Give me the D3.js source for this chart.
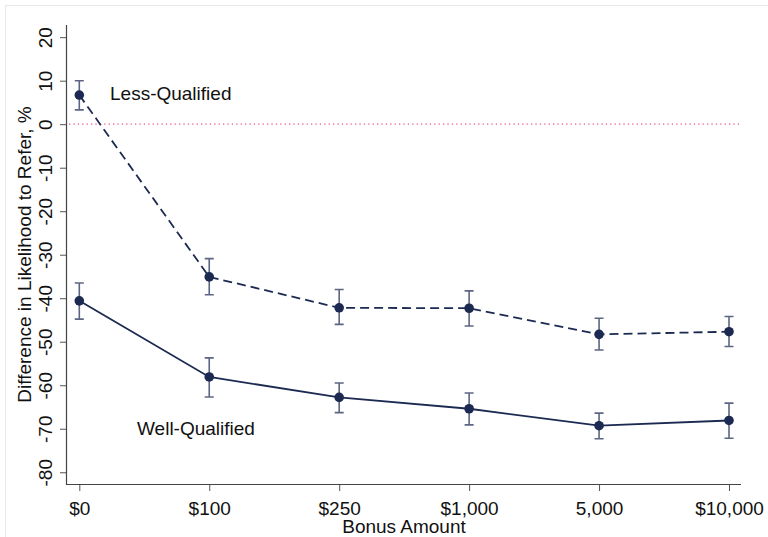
<!DOCTYPE html>
<html>
<head>
<meta charset="utf-8">
<script src="https://cdn.jsdelivr.net/npm/d3@7"></script>
<style>
    body { margin: 0; background: #fff; }
    text { font-family: "Liberation Sans", Arial, sans-serif; fill: #111; }
</style>
</head>
<body>
<div id="chart"></div>
<script>
// Data
const bonusLabels = ["$0", "$100", "$250", "$1,000", "5,000", "$10,000"];
const yTicks = [20, 10, 0, -10, -20, -30, -40, -50, -60, -70, -80];

const lessQualified = [6.7, -35.1, -42.2, -42.3, -48.3, -47.7];
const lessLow = [3.3, -39.2, -46.0, -46.4, -51.9, -51.1];
const lessHigh = [10.0, -30.9, -38.0, -38.3, -44.6, -44.2];

const wellQualified = [-40.6, -58.1, -62.8, -65.4, -69.3, -68.1];
const wellLow = [-44.8, -62.7, -66.3, -69.1, -72.3, -72.2];
const wellHigh = [-36.5, -53.7, -59.5, -61.8, -66.4, -64.1];

const W = 768, H = 537;
const plot = { left: 67, right: 741, top: 25, bottom: 484 };
const navy = "#1c2a52";
const barColor = "#5c6684";

const svg = d3.select("#chart").append("svg")
    .attr("width", W)
    .attr("height", H);

// light outer frame
svg.append("rect")
    .attr("x", 5.5).attr("y", 5.5)
    .attr("width", W + 20).attr("height", H + 20)
    .style("fill", "none")
    .style("stroke", "#e4e9e9");

// Scales
const x = d3.scalePoint()
    .domain(bonusLabels)
    .range([79.3, 729]);

const y = d3.scaleLinear()
    .domain([-82.7, 22.8])
    .range([plot.bottom, plot.top]);

// Axes
const xAxis = svg.append("g")
    .attr("transform", `translate(0,${plot.bottom})`)
    .call(d3.axisBottom(x).tickSize(7).tickSizeOuter(0));
xAxis.select(".domain").remove();
xAxis.selectAll("line").style("stroke", "#555");
xAxis.selectAll("text")
    .attr("y", 12)
    .attr("dy", "1em")
    .style("font-size", "19px")
    .style("font-family", "Liberation Sans, Arial, sans-serif")
    .style("fill", "#111");

const yAxis = svg.append("g")
    .attr("transform", `translate(${plot.left},0)`)
    .call(d3.axisLeft(y).tickValues(yTicks).tickFormat(d => String(d)).tickSize(7).tickSizeOuter(0));
yAxis.select(".domain").remove();
yAxis.selectAll("line").style("stroke", "#555");
yAxis.selectAll("text")
    .attr("x", null).attr("dy", null)
    .attr("text-anchor", "middle")
    .attr("transform", "translate(-15,0) rotate(-90)")
    .style("font-size", "19px")
    .style("font-family", "Liberation Sans, Arial, sans-serif")
    .style("fill", "#111");

// axis lines spanning full plot region
svg.append("line")
    .attr("x1", plot.left).attr("x2", plot.right)
    .attr("y1", plot.bottom + 0.5).attr("y2", plot.bottom + 0.5)
    .style("stroke", "#444").style("stroke-width", 1.2);
svg.append("line")
    .attr("x1", plot.left - 0.5).attr("x2", plot.left - 0.5)
    .attr("y1", plot.top).attr("y2", plot.bottom + 1)
    .style("stroke", "#444").style("stroke-width", 1.2);

// Axis titles
svg.append("text")
    .attr("text-anchor", "middle")
    .attr("x", (plot.left + plot.right) / 2)
    .attr("y", 533)
    .style("font-size", "19px")
    .text("Bonus Amount");

svg.append("text")
    .attr("text-anchor", "middle")
    .attr("transform", `translate(31,${(plot.top + plot.bottom) / 2}) rotate(-90)`)
    .style("font-size", "19px")
    .text("Difference in Likelihood to Refer, %");

// zero reference line
svg.append("line")
    .attr("x1", plot.left + 2).attr("x2", plot.right)
    .attr("y1", y(0)).attr("y2", y(0))
    .style("stroke", "#ea5a86")
    .style("stroke-width", 1.3)
    .style("stroke-dasharray", "1.3,3.1");

function drawSeries(values, low, high, dash) {
    const pts = bonusLabels.map((b, i) => ({ b, v: values[i], lo: low[i], hi: high[i] }));

    const line = d3.line()
        .x(d => x(d.b))
        .y(d => y(d.v));

    svg.append("path")
        .datum(pts)
        .attr("d", line)
        .style("fill", "none")
        .style("stroke", navy)
        .style("stroke-width", 1.8)
        .style("stroke-dasharray", dash);

    const bars = svg.append("g");
    bars.selectAll(".err")
        .data(pts)
        .enter()
        .append("path")
        .attr("d", d => {
            const cx = x(d.b), y1 = y(d.hi), y2 = y(d.lo);
            return `M${cx - 4.5},${y1}H${cx + 4.5}M${cx},${y1}V${y2}M${cx - 4.5},${y2}H${cx + 4.5}`;
        })
        .style("fill", "none")
        .style("stroke", barColor)
        .style("stroke-width", 1.6);

    svg.selectAll(null)
        .data(pts)
        .enter()
        .append("circle")
        .attr("cx", d => x(d.b))
        .attr("cy", d => y(d.v))
        .attr("r", 4.8)
        .style("fill", navy);
}

drawSeries(lessQualified, lessLow, lessHigh, "9,5");
drawSeries(wellQualified, wellLow, wellHigh, null);

// Series labels
svg.append("text")
    .attr("x", 110).attr("y", 99.5)
    .style("font-size", "19px")
    .text("Less-Qualified");

svg.append("text")
    .attr("x", 137).attr("y", 435)
    .style("font-size", "19px")
    .text("Well-Qualified");
</script>
</body>
</html>
